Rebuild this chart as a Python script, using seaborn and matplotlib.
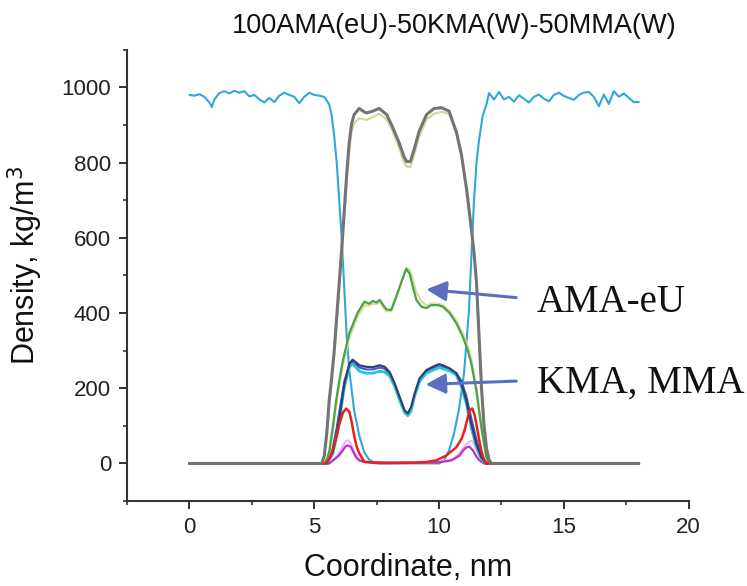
import numpy as np
import pandas as pd
import seaborn as sns
import matplotlib.pyplot as plt
from matplotlib.ticker import MultipleLocator

# density profiles (coordinate in nm, density in kg/m3)
water_x = [0.0, 0.2, 0.4, 0.6, 0.8, 0.9, 1.0, 1.2, 1.4, 1.6, 1.8, 2.0, 2.2, 2.4, 2.6, 2.8,
           3.0, 3.2, 3.4, 3.6, 3.8, 4.0, 4.2, 4.4, 4.6, 4.8, 5.0, 5.2, 5.4, 5.6, 5.7, 5.8,
           5.9, 6.0, 6.1, 6.2, 6.3, 6.4, 6.6, 6.8, 7.0, 7.2, 7.4, 7.6, 8.0, 9.0, 10.0, 10.2,
           10.4, 10.6, 10.8, 11.0, 11.2, 11.3, 11.4, 11.5, 11.6, 11.75, 11.9, 12.0, 12.2, 12.4,
           12.6, 12.8, 13.0, 13.2, 13.4, 13.6, 13.8, 14.0, 14.2, 14.4, 14.6, 14.8, 15.0, 15.2,
           15.4, 15.6, 15.8, 16.0, 16.2, 16.4, 16.6, 16.8, 17.0, 17.2, 17.4, 17.6, 17.8, 18.0]
water_y = [980, 978, 982, 975, 960, 948, 968, 985, 990, 984, 991, 986, 990, 976, 980, 968,
           960, 972, 961, 978, 986, 980, 975, 958, 975, 986, 980, 978, 975, 955, 925, 870,
           800, 700, 600, 470, 340, 250, 140, 75, 30, 10, 3, 0, 0, 0, 0, 8,
           35, 80, 145, 240, 410, 560, 700, 800, 860, 925, 955, 985, 968, 988,
           968, 975, 962, 979, 970, 960, 975, 981, 970, 963, 980, 986, 977, 972,
           967, 980, 986, 988, 975, 950, 981, 956, 990, 975, 984, 972, 961, 961]

total_x = [0.0, 5.3, 5.4, 5.5, 5.6, 5.7, 5.8, 5.9, 6.0, 6.1, 6.2, 6.3, 6.4, 6.5, 6.6, 6.8,
           7.0, 7.1, 7.35, 7.6, 7.9, 8.1, 8.4, 8.6, 8.7, 8.85, 9.0, 9.2, 9.5, 9.8, 10.1, 10.4,
           10.7, 10.9, 11.1, 11.3, 11.4, 11.5, 11.6, 11.7, 11.8, 11.9, 12.0, 12.1, 18.0]
total_y = [0, 0, 20, 80, 168, 230, 300, 390, 480, 570, 670, 770, 853, 905, 928, 944,
           935, 932, 937, 944, 928, 900, 853, 815, 803, 803, 835, 883, 928, 944, 946, 937,
           880, 820, 730, 620, 560, 480, 340, 200, 100, 40, 10, 0, 0]
total2_y = [0, 0, 15, 70, 150, 215, 285, 375, 465, 555, 650, 750, 830, 885, 905, 918,
            915, 913, 922, 930, 915, 890, 840, 800, 790, 788, 820, 870, 915, 930, 935, 930,
            875, 815, 730, 625, 565, 490, 350, 210, 110, 45, 12, 0, 0]

ama_x = [0.0, 5.4, 5.53, 5.61, 5.75, 5.88, 6.0, 6.15, 6.41, 6.73, 7.01, 7.2, 7.35, 7.5, 7.62,
         7.88, 8.08, 8.28, 8.48, 8.68, 8.82, 8.95, 9.09, 9.29, 9.49, 9.69, 9.95, 10.15, 10.42,
         10.69, 10.95, 11.15, 11.29, 11.49, 11.69, 11.89, 12.0, 18.0]
ama_y = [0, 0, 15, 35, 100, 168, 220, 275, 347, 400, 430, 425, 432, 428, 435,
         410, 408, 443, 480, 517, 505, 470, 435, 417, 413, 421, 421, 417, 400,
         373, 337, 301, 266, 195, 97, 17, 0, 0]
ama2_y = [0, 0, 10, 28, 88, 155, 208, 262, 335, 390, 420, 420, 425, 424, 430,
          405, 405, 440, 480, 520, 515, 490, 455, 432, 420, 425, 425, 420, 405,
          380, 345, 310, 275, 205, 105, 22, 0, 0]

kma_x = [0.0, 5.5, 5.74, 5.9, 6.01, 6.21, 6.41, 6.54, 6.81, 7.08, 7.35, 7.62, 7.82, 8.02,
         8.22, 8.42, 8.62, 8.75, 8.88, 9.02, 9.22, 9.49, 9.75, 10.0, 10.15, 10.42, 10.69,
         10.89, 11.09, 11.29, 11.49, 11.69, 11.89, 18.0]
kma_y = [0, 0, 30, 80, 123, 213, 266, 276, 261, 257, 256, 261, 257, 243,
         213, 177, 141, 133, 150, 186, 226, 248, 257, 264, 261, 253, 240,
         213, 168, 106, 53, 17, 0, 0]
mma_y = [0, 0, 25, 70, 115, 205, 258, 265, 245, 240, 240, 245, 243, 232,
         205, 168, 135, 127, 140, 178, 218, 240, 248, 255, 252, 246, 235,
         205, 160, 95, 45, 12, 0, 0]
blue_y = [0, 0, 40, 95, 140, 220, 262, 270, 255, 250, 250, 255, 252, 238,
          210, 172, 138, 130, 146, 182, 222, 244, 252, 258, 256, 250, 240,
          220, 180, 120, 65, 22, 0, 0]

red_x = [0.0, 5.47, 5.6, 5.74, 5.9, 6.01, 6.15, 6.28, 6.41, 6.5, 6.61, 6.7, 6.81, 7.01, 7.5,
         8.0, 9.0, 9.5, 9.89, 10.29, 10.69, 10.9, 11.02, 11.12, 11.22, 11.33, 11.42, 11.49,
         11.6, 11.69, 11.8, 11.89, 18.0]
red_y = [0, 0, 12, 35, 75, 106, 135, 146, 137, 110, 70, 45, 26, 4, 1,
         1, 2, 4, 8, 21, 43, 65, 88, 115, 141, 146, 130, 106,
         65, 35, 10, 0, 0]

mag_x = [0.0, 5.6, 5.88, 6.0, 6.15, 6.25, 6.34, 6.47, 6.57, 6.67, 6.8, 7.0, 8.0, 9.0, 10.0,
         10.5, 10.82, 11.02, 11.15, 11.22, 11.35, 11.5, 11.6, 11.8, 18.0]
mag_y = [0, 0, 15, 22, 35, 45, 48, 44, 30, 17, 8, 4, 2, 2, 3,
         8, 21, 39, 44, 44, 35, 18, 9, 0, 0]

pink_x = [0.0, 5.6, 5.9, 6.1, 6.25, 6.35, 6.45, 6.6, 6.8, 7.0, 8.0, 9.0, 10.0, 10.6, 10.9,
          11.1, 11.25, 11.35, 11.5, 11.7, 11.9, 18.0]
pink_y = [0, 0, 18, 40, 58, 62, 55, 30, 12, 5, 3, 3, 4, 12, 35,
          52, 60, 58, 35, 10, 0, 0]

title = "100AMA(eU)-50KMA(W)-50MMA(W)"

sns.set_style("ticks")
plt.rcParams["font.family"] = ["Liberation Sans", "DejaVu Sans"]

fig = plt.figure(figsize=(7.47, 5.86), dpi=100)
ax = fig.add_axes([0.170, 0.145, 0.752, 0.770])

# drawing order: lighter / background curves first, total last
series = [
    (water_x, water_y, "#2fa8d8", 1.5),
    (pink_x, pink_y, "#f2b2f0", 1.5),
    (mag_x, mag_y, "#b834c6", 1.6),
    (kma_x, blue_y, "#3a5ad4", 1.5),
    (kma_x, mma_y, "#22c8d8", 2.0),
    (kma_x, kma_y, "#3a3a72", 1.6),
    (ama_x, ama2_y, "#e2d6a2", 1.6),
    (ama_x, ama_y, "#46a646", 1.6),
    (red_x, red_y, "#e8201e", 1.8),
    (total_x, total2_y, "#d8d69a", 1.6),
    (total_x, total_y, "#747474", 2.2),
]
for xs, ys, col, lw in series:
    sns.lineplot(x=xs, y=ys, ax=ax, color=col, linewidth=lw)

ax.set_xlim(-2.5, 20)
ax.set_ylim(-100, 1100)
ax.xaxis.set_major_locator(MultipleLocator(5))
ax.xaxis.set_minor_locator(MultipleLocator(2.5))
ax.yaxis.set_major_locator(MultipleLocator(200))
ax.yaxis.set_minor_locator(MultipleLocator(100))
ax.set_yticks([0, 200, 400, 600, 800, 1000])

for s in ["top", "right"]:
    ax.spines[s].set_visible(False)
for s in ["left", "bottom"]:
    ax.spines[s].set_color("#333333")
    ax.spines[s].set_linewidth(1.5)
ax.tick_params(which="major", length=5.5, width=1.4, color="#333333", labelsize=16,
               labelcolor="#222222")
ax.tick_params(axis="x", which="major", pad=6)
ax.tick_params(axis="y", which="major", pad=6)
ax.tick_params(which="minor", length=3, width=1.2, color="#333333")

ax.set_xlabel("Coordinate, nm", fontsize=22, color="#111111")
ax.set_ylabel("Density, kg/m$^3$", fontsize=22, color="#111111")
ax.xaxis.set_label_coords(0.5, -0.115)
ax.yaxis.set_label_coords(-0.146, 0.523)

ax.text(0.582, 1.038, title, transform=ax.transAxes, ha="center", va="baseline",
        fontsize=19.5, color="#111111")

# arrows + labels
arrow_col = "#5b6fc0"
ax.annotate("", xy=(9.49, 463), xytext=(13.09, 441),
            arrowprops=dict(arrowstyle="-|>", color=arrow_col, lw=2.2,
                            mutation_scale=30, shrinkA=0, shrinkB=0))
ax.annotate("", xy=(9.46, 210), xytext=(13.09, 219),
            arrowprops=dict(arrowstyle="-|>", color=arrow_col, lw=2.2,
                            mutation_scale=30, shrinkA=0, shrinkB=0))
ax.text(13.91, 403, "AMA-eU", fontsize=28, family=["Liberation Serif", "DejaVu Serif"],
        ha="left", va="baseline", color="#111111")
ax.text(13.91, 187, "KMA, MMA", fontsize=28, family=["Liberation Serif", "DejaVu Serif"],
        ha="left", va="baseline", color="#111111")

fig.savefig("out.png", dpi=100)
